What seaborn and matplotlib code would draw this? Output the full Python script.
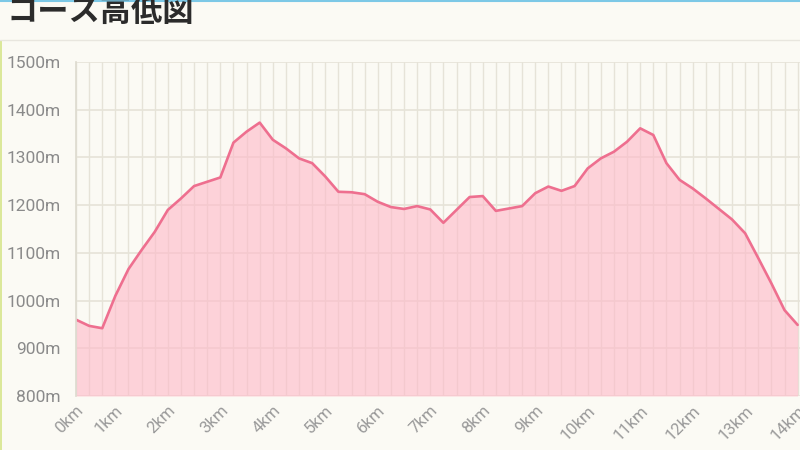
import numpy as np
import pandas as pd
import matplotlib
matplotlib.use("Agg")
import matplotlib.pyplot as plt
from matplotlib.lines import Line2D
from matplotlib.patches import Rectangle
import seaborn as sns

# 標高データ（点ごと）
elevation = [960, 947, 942, 1010, 1066, 1106, 1144, 1190, 1214, 1240, 1249, 1258,
             1331, 1354, 1373, 1337, 1319, 1298, 1288, 1260, 1228, 1227, 1223, 1207,
             1196, 1192, 1198, 1191, 1163, 1190, 1217, 1219, 1188, 1193, 1198, 1225,
             1239, 1230, 1240, 1277, 1298, 1312, 1333, 1361, 1347, 1288, 1253, 1235,
             1214, 1192, 1170, 1141, 1089, 1036, 980, 949]
km_index = [0, 3, 7, 11, 15, 19, 23, 27, 31, 35, 39, 43, 47, 51, 55]
km_labels = [f"{k}km" for k in range(15)]
y_ticks = [800, 900, 1000, 1100, 1200, 1300, 1400, 1500]
y_labels = [f"{v}m" for v in y_ticks]
title = "コース高低図"

df = pd.DataFrame({"idx": np.arange(len(elevation)), "elev": elevation})

bg = "#fbfaf4"
line_col = "#ee6f8f"
fill_col = "#ffb8c8"
grid_col = "#e6e3d8"
text_col = "#8a8a8a"

sns.set_theme(style="white")
plt.rcParams["font.family"] = ["Roboto", "Noto Sans CJK JP", "DejaVu Sans"]

fig = plt.figure(figsize=(8, 4.5), dpi=100, facecolor=bg)
ax = fig.add_axes([76 / 800, 1 - 396 / 450, 724 / 800, 334 / 450])
ax.set_facecolor(bg)

sns.lineplot(data=df, x="idx", y="elev", ax=ax, color=line_col, linewidth=1.9)
ax.fill_between(df["idx"], df["elev"], 800, color=fill_col, alpha=0.6, linewidth=0)

ax.set_xlim(0, 55.18)
ax.set_ylim(800, 1500)

ax.set_xticks(df["idx"], minor=True)
ax.set_xticks(km_index)
ax.set_xticklabels(km_labels, rotation=45, ha="right", rotation_mode="anchor",
                   fontsize=12, color="#9a9a9a")
ax.set_yticks(y_ticks)
ax.set_yticklabels(y_labels, fontsize=12.5, color=text_col)

ax.grid(True, axis="x", which="both", color=grid_col, linewidth=1.0)
ax.grid(True, axis="y", which="major", color=grid_col, linewidth=1.2)
ax.tick_params(axis="x", which="both", length=9, color=grid_col, width=1.0, pad=-4)
ax.tick_params(axis="y", length=8, color=grid_col, width=1.2, pad=3)
for side in ["top", "right", "bottom"]:
    ax.spines[side].set_visible(False)
ax.spines["left"].set_color("#dedbd0")
ax.set_xlabel("")
ax.set_ylabel("")
ax.set_axisbelow(True)

# タイトルと区切り線
fig.text(6 / 800, 1 - 12 / 450, title, fontsize=22.5, fontweight="bold",
         color="#2b2b2b", va="center", ha="left",
         family=["Noto Sans CJK JP", "DejaVu Sans"])
fig.add_artist(Line2D([0, 1], [1 - 40 / 450, 1 - 40 / 450], color="#e8e6de",
                      linewidth=1.0, transform=fig.transFigure))
fig.add_artist(Line2D([0, 1], [1 - 1 / 450, 1 - 1 / 450], color="#7cc8e6",
                      linewidth=1.5, transform=fig.transFigure))
fig.add_artist(Rectangle((0, 0), 2 / 800, 1 - 40 / 450, color="#dbe89a",
                         transform=fig.transFigure, linewidth=0))

fig.savefig("out.png", dpi=100, facecolor=bg)
